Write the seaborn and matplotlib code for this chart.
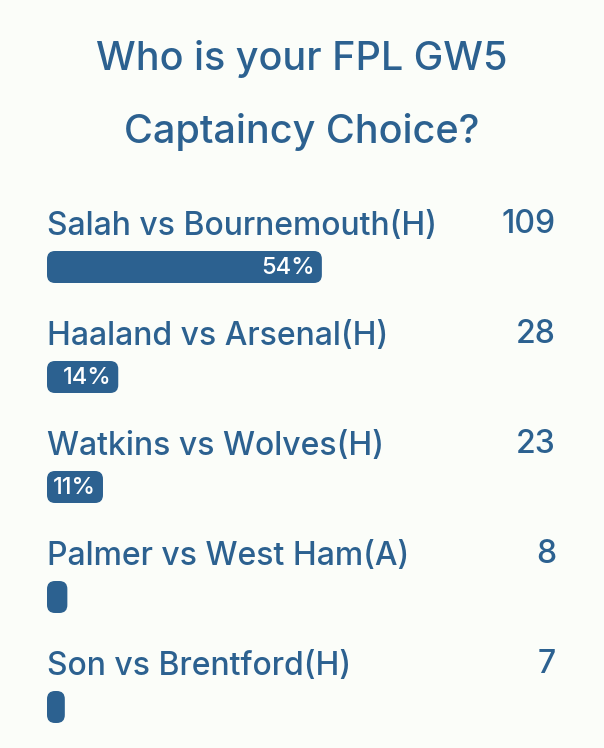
import matplotlib
matplotlib.use("Agg")
import matplotlib.pyplot as plt
from matplotlib.patches import FancyBboxPatch
import seaborn as sns
import pandas as pd

# poll data
options = ["Salah vs Bournemouth(H)", "Haaland vs Arsenal(H)", "Watkins vs Wolves(H)",
           "Palmer vs West Ham(A)", "Son vs Brentford(H)"]
votes = [109, 28, 23, 8, 7]
percent = [54, 14, 11, 4, 3.5]
title_lines = ["Who is your FPL GW5", "Captaincy Choice?"]

BG = "#fbfdf9"
BLUE = "#2c6190"
FONT = "Inter"

W, H = 604, 748
fig = plt.figure(figsize=(W / 100, H / 100), dpi=100, facecolor=BG)

sns.set_style("white")
plt.rcParams["font.family"] = [FONT, "DejaVu Sans"]

# axes spanning the bar column, full height
ax = fig.add_axes([47 / W, 0, 509 / W, 1])
ax.set_facecolor(BG)
df = pd.DataFrame({"option": options, "pct": percent})
sns.barplot(data=df, x="pct", y="option", orient="h", color=BLUE, width=32 / 110,
            saturation=1, ax=ax)

row_px = 110
first_px = 267
ax.set_xlim(0, 100)
ax.set_ylim((H - first_px) / row_px, -first_px / row_px)
ax.axis("off")

# px -> data unit scales
x_per_px = 100 / 509
y_per_px = 1 / row_px
aspect = y_per_px / x_per_px

# replace the flat rectangles with rounded ones
for p in list(ax.patches):
    x0, y0, w, h = p.get_x(), p.get_y(), p.get_width(), p.get_height()
    r = min(8 * x_per_px, w / 2, (h / aspect) / 2)
    rb = FancyBboxPatch((x0, y0), w, h,
                        boxstyle=f"round,pad=0,rounding_size={r}",
                        mutation_aspect=aspect, facecolor=BLUE, edgecolor="none")
    p.remove()
    ax.add_patch(rb)

for i, (name, v, pc) in enumerate(zip(options, votes, percent)):
    ax.text(0, i - 32 * y_per_px, name, fontsize=23, color=BLUE, va="baseline",
            ha="left", fontweight="medium")
    ax.text(100, i - 34 * y_per_px, str(v), fontsize=23, color=BLUE, va="baseline",
            ha="right", fontweight="medium")
    if pc >= 10:
        ax.text(pc - 7 * x_per_px, i + 7 * y_per_px, f"{pc:.0f}%", fontsize=17,
                color="white", va="baseline", ha="right", fontweight="medium")

for k, line in enumerate(title_lines):
    fig.text(0.5, 1 - (70 + 73 * k) / H, line, fontsize=28.5, color=BLUE,
             ha="center", va="baseline", fontweight="medium")

fig.savefig("out.png", dpi=100, facecolor=BG)
